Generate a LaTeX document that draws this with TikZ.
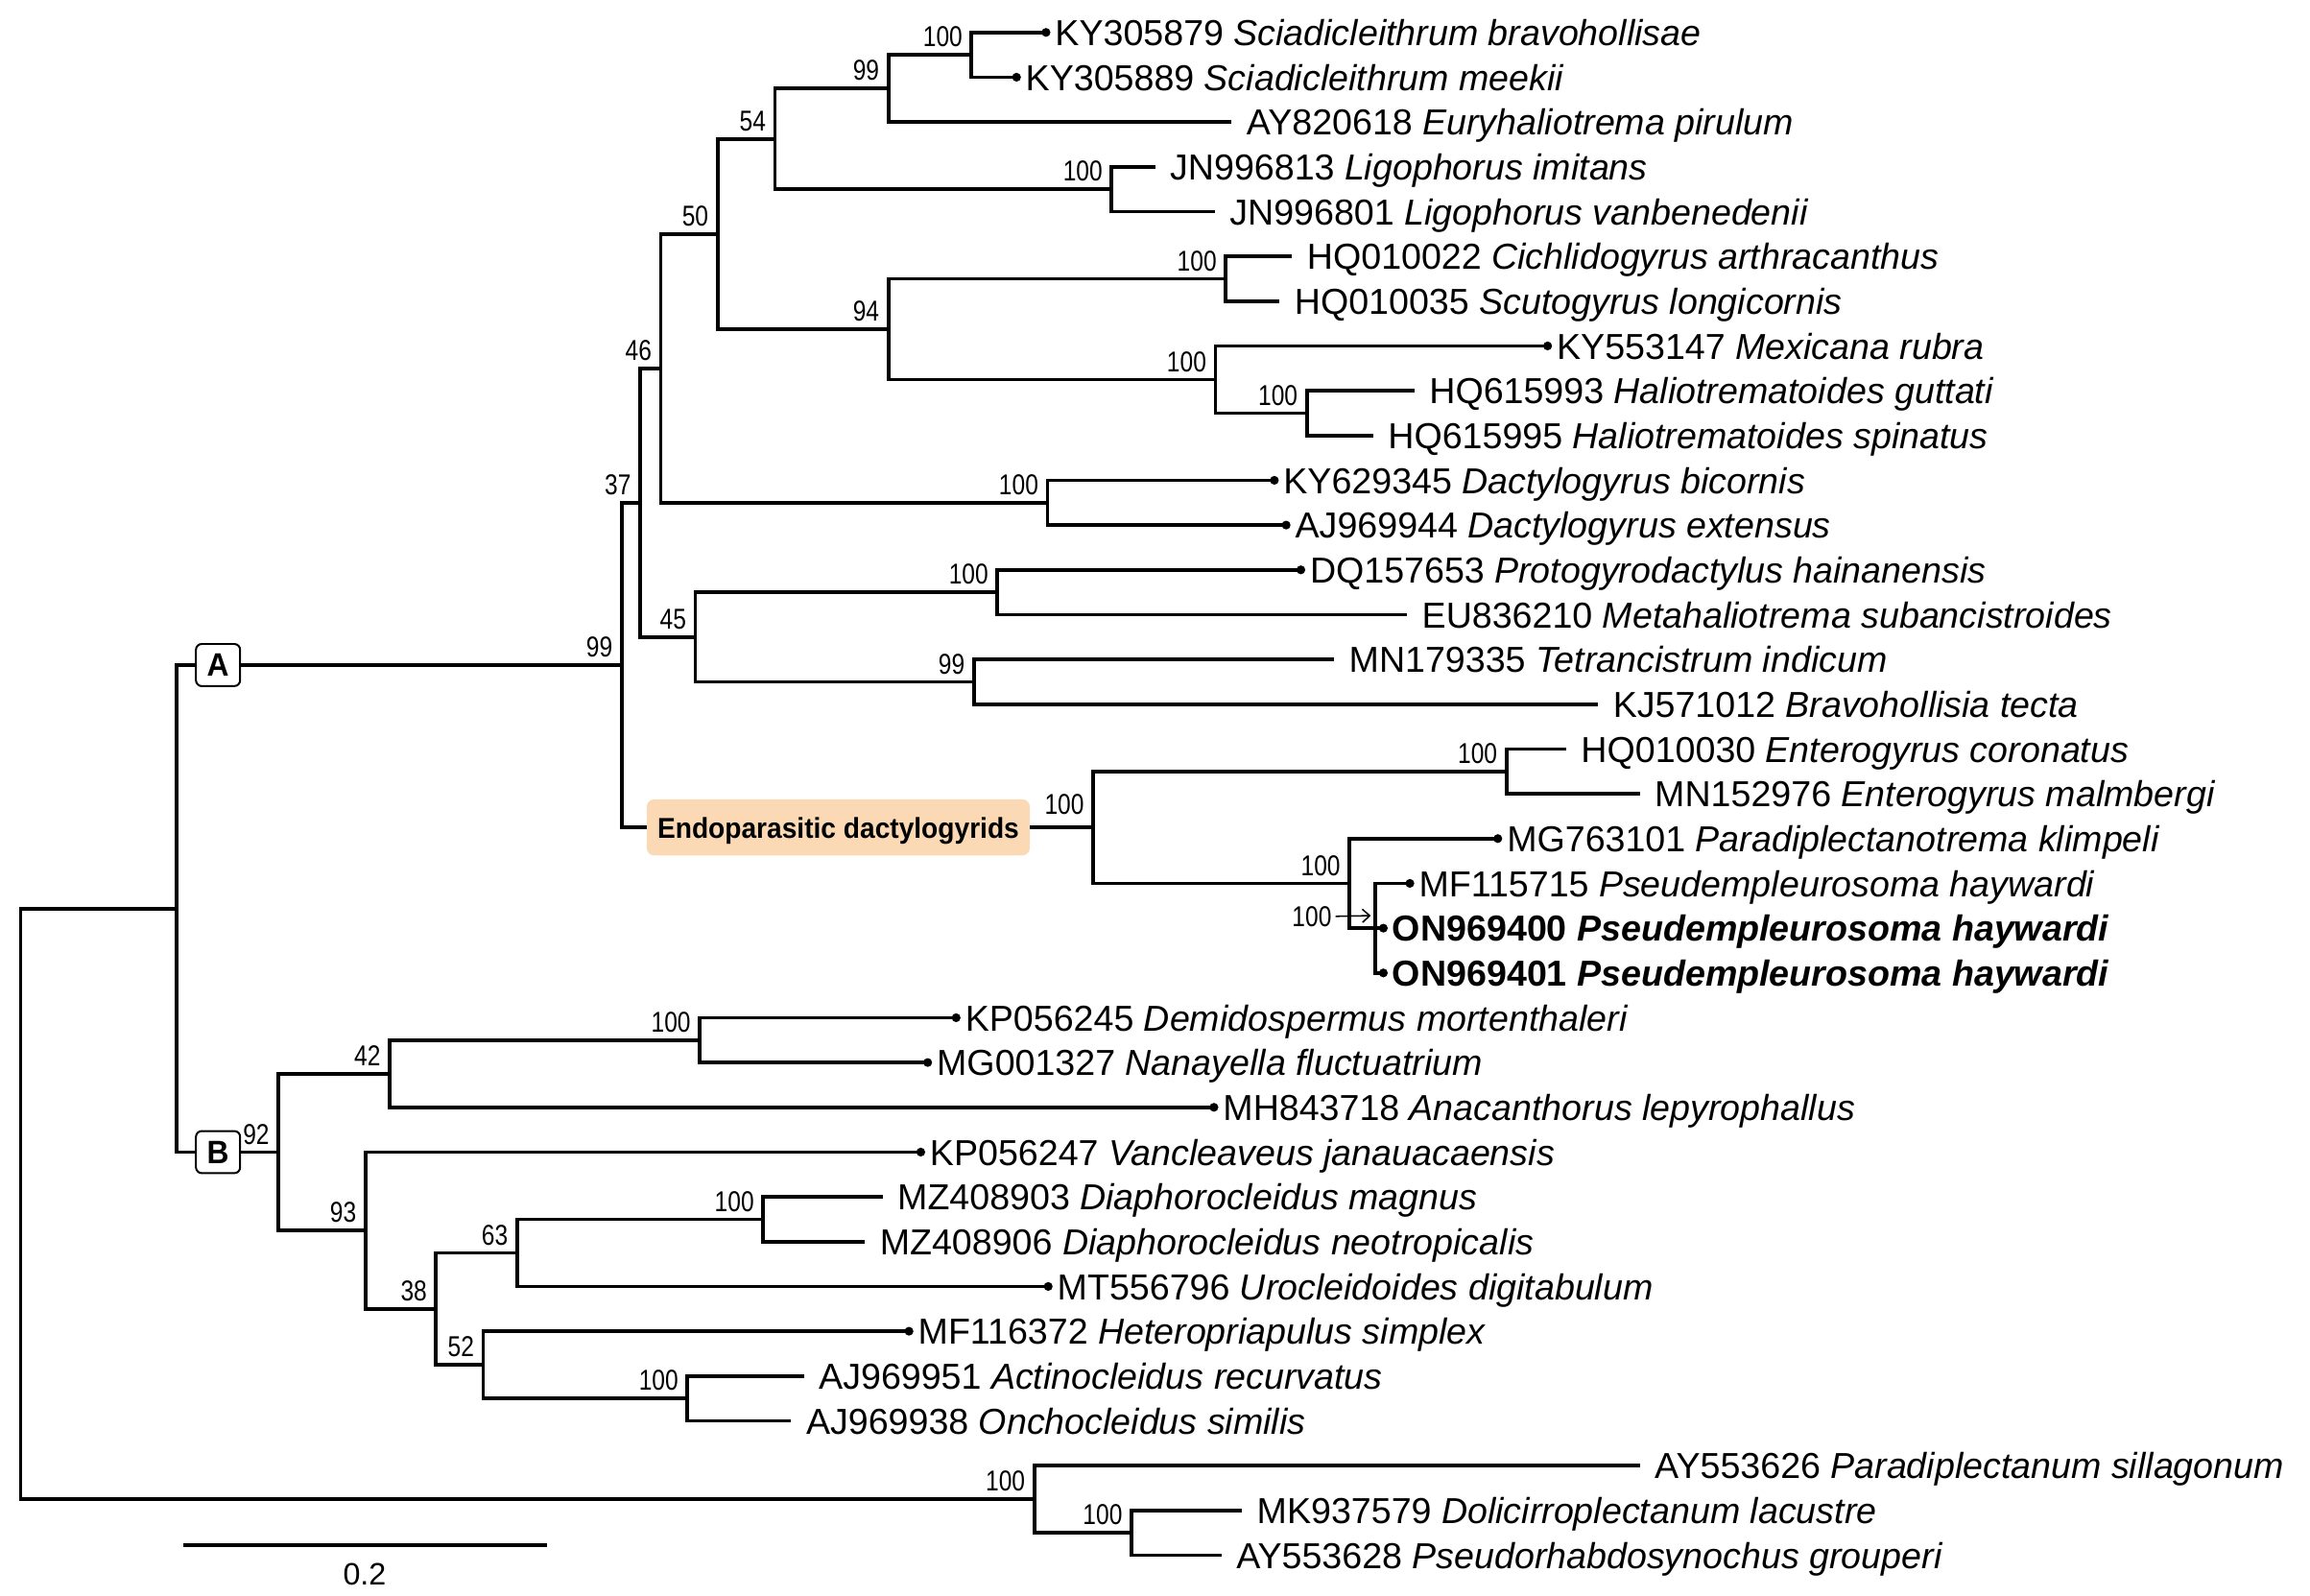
\documentclass[tikz,border=0pt]{standalone}
\usepackage{fontspec}
\setmainfont{Liberation Sans}
\newfontfamily\narrowfont[FakeStretch=0.82]{Liberation Sans}
\newfontfamily\boxfont[FakeStretch=0.94]{Liberation Sans}
\usetikzlibrary{arrows.meta}
\definecolor{endofill}{RGB}{250,217,180}
\tikzset{
  branch/.style={line width=2.5pt},
  taxon/.style={anchor=base west, inner sep=0pt, font=\fontsize{24.5}{28}\selectfont},
  support/.style={anchor=base east, inner sep=0pt, font=\narrowfont\fontsize{19.5}{22}\selectfont},
  cladebox/.style={draw, line width=1.3pt, rounded corners=4pt, fill=white, minimum width=30pt, minimum height=28.6pt, inner sep=0pt, font=\boxfont\bfseries\fontsize{22}{24}\selectfont},
  endobox/.style={fill=endofill, rounded corners=5pt, minimum width=260pt, minimum height=38pt, inner sep=0pt, text height=14.5pt, text depth=0pt, font=\boxfont\bfseries\fontsize{19.5}{22}\selectfont},
  scalelabel/.style={anchor=base, inner sep=0pt, font=\fontsize{21}{24}\selectfont},
}
\newcommand{\tipd}[4]{\coordinate (#1) at (#2); \fill (#1) circle (3pt); \node[taxon] (t#1) at ([xshift=6pt,yshift=-9pt]#1) {#3 \textit{#4}};}
\newcommand{\tipp}[4]{\coordinate (#1) at (#2); \node[taxon] (t#1) at ([xshift=10pt,yshift=-9pt]#1) {#3 \textit{#4}};}
\newcommand{\bsv}[3]{\node[support] (#1) at ([xshift=-6pt,yshift=5.5pt]#2) {#3};}
\begin{document}
\begin{tikzpicture}[x=1pt,y=-1pt]
\useasboundingbox (0,0) rectangle (1568,1082.7);

% internal nodes
\coordinate (root) at (14,817.2);
\coordinate (n30) at (120,616.7);
\coordinate (n20) at (422,451.4);
\coordinate (n15) at (434.5,341.2);
\coordinate (n11) at (448.5,250.0);
\coordinate (n9) at (487,158.8);
\coordinate (n4) at (526,94.2);
\coordinate (n2) at (603,60.0);
\coordinate (n1) at (659.5,37.2);
\coordinate (n3) at (754.5,128.4);
\coordinate (n8) at (603,223.4);
\coordinate (n5) at (832,189.2);
\coordinate (n7) at (825,257.6);
\coordinate (n6) at (887,280.4);
\coordinate (n10) at (711,341.2);
\coordinate (n14) at (472,432.4);
\coordinate (n12) at (677,402.0);
\coordinate (n13) at (661,462.8);
\coordinate (n19) at (742,561.6);
\coordinate (n16) at (1022.5,523.6);
\coordinate (n18) at (916,599.6);
\coordinate (n17) at (933.6,630.0);
\coordinate (n29) at (189,782.0);
\coordinate (n22) at (264.5,728.8);
\coordinate (n21) at (475,706.0);
\coordinate (n28) at (248,835.2);
\coordinate (n27) at (296,888.4);
\coordinate (n24) at (351,850.4);
\coordinate (n23) at (518,827.6);
\coordinate (n26) at (328,926.4);
\coordinate (n25) at (466.6,949.2);
\coordinate (n32) at (702,1017.6);
\coordinate (n31) at (768,1040.4);

% leaves
\tipd{l1}{710,22.0}{KY305879}{Sciadicleithrum bravohollisae}
\tipd{l2}{690,52.4}{KY305889}{Sciadicleithrum meekii}
\tipp{l3}{836,82.8}{AY820618}{Euryhaliotrema pirulum}
\tipp{l4}{784,113.2}{JN996813}{Ligophorus imitans}
\tipp{l5}{824.5,143.6}{JN996801}{Ligophorus vanbenedenii}
\tipp{l6}{877,174.0}{HQ010022}{Cichlidogyrus arthracanthus}
\tipp{l7}{868.5,204.4}{HQ010035}{Scutogyrus longicornis}
\tipd{l8}{1050.5,234.8}{KY553147}{Mexicana rubra}
\tipp{l9}{960,265.2}{HQ615993}{Haliotrematoides guttati}
\tipp{l10}{932,295.6}{HQ615995}{Haliotrematoides spinatus}
\tipd{l11}{865,326.0}{KY629345}{Dactylogyrus bicornis}
\tipd{l12}{873,356.4}{AJ969944}{Dactylogyrus extensus}
\tipd{l13}{883,386.8}{DQ157653}{Protogyrodactylus hainanensis}
\tipp{l14}{955,417.2}{EU836210}{Metahaliotrema subancistroides}
\tipp{l15}{905.5,447.6}{MN179335}{Tetrancistrum indicum}
\tipp{l16}{1084.7,478.0}{KJ571012}{Bravohollisia tecta}
\tipp{l17}{1063,508.4}{HQ010030}{Enterogyrus coronatus}
\tipp{l18}{1113,538.8}{MN152976}{Enterogyrus malmbergi}
\tipd{l19}{1016.7,569.2}{MG763101}{Paradiplectanotrema klimpeli}
\tipd{l20}{957,599.6}{MF115715}{Pseudempleurosoma haywardi}
\tipd{l21}{939,630.0}{\bfseries ON969400}{\bfseries Pseudempleurosoma haywardi}
\tipd{l22}{939,660.4}{\bfseries ON969401}{\bfseries Pseudempleurosoma haywardi}
\tipd{l23}{649,690.8}{KP056245}{Demidospermus mortenthaleri}
\tipd{l24}{629.7,721.2}{MG001327}{Nanayella fluctuatrium}
\tipd{l25}{824,751.6}{MH843718}{Anacanthorus lepyrophallus}
\tipd{l26}{625,782.0}{KP056247}{Vancleaveus janauacaensis}
\tipp{l27}{599,812.4}{MZ408903}{Diaphorocleidus magnus}
\tipp{l28}{587,842.8}{MZ408906}{Diaphorocleidus neotropicalis}
\tipd{l29}{711.5,873.2}{MT556796}{Urocleidoides digitabulum}
\tipd{l30}{617,903.6}{MF116372}{Heteropriapulus simplex}
\tipp{l31}{545.6,934.0}{AJ969951}{Actinocleidus recurvatus}
\tipp{l32}{537,964.4}{AJ969938}{Onchocleidus similis}
\tipp{l33}{1113,994.8}{AY553626}{Paradiplectanum sillagonum}
\tipp{l34}{843,1025.2}{MK937579}{Dolicirroplectanum lacustre}
\tipp{l35}{829,1055.6}{AY553628}{Pseudorhabdosynochus grouperi}

% clade boxes
\node[cladebox] (A) at (148,451.4) {A};
\node[cladebox] (B) at (148,782.0) {B};
\node[endobox] (endo) at (569,561.6) {Endoparasitic dactylogyrids};

% branches
\draw[branch] (root) |- (n30) (root) |- (n32);
\draw[branch] (n30) |- (A.west) (A.east) -- (n20);
\draw[branch] (n30) |- (B.west) (B.east) -- (n29);
\draw[branch] (n20) |- (n15) (n20) |- (endo.west) (endo.east) -- (n19);
\draw[branch] (n15) |- (n11) (n15) |- (n14);
\draw[branch] (n11) |- (n9) (n11) |- (n10);
\draw[branch] (n9) |- (n4) (n9) |- (n8);
\draw[branch] (n4) |- (n2) (n4) |- (n3);
\draw[branch] (n2) |- (n1) (n2) |- (l3);
\draw[branch] (n1) |- (l1) (n1) |- (l2);
\draw[branch] (n3) |- (l4) (n3) |- (l5);
\draw[branch] (n8) |- (n5) (n8) |- (n7);
\draw[branch] (n5) |- (l6) (n5) |- (l7);
\draw[branch] (n7) |- (l8) (n7) |- (n6);
\draw[branch] (n6) |- (l9) (n6) |- (l10);
\draw[branch] (n10) |- (l11) (n10) |- (l12);
\draw[branch] (n14) |- (n12) (n14) |- (n13);
\draw[branch] (n12) |- (l13) (n12) |- (l14);
\draw[branch] (n13) |- (l15) (n13) |- (l16);
\draw[branch] (n19) |- (n16) (n19) |- (n18);
\draw[branch] (n16) |- (l17) (n16) |- (l18);
\draw[branch] (n18) |- (l19) (n18) |- (n17);
\draw[branch] (n17) |- (l20) (n17) |- (l21) (n17) |- (l22);
\draw[branch] (n29) |- (n22) (n29) |- (n28);
\draw[branch] (n22) |- (n21) (n22) |- (l25);
\draw[branch] (n21) |- (l23) (n21) |- (l24);
\draw[branch] (n28) |- (l26) (n28) |- (n27);
\draw[branch] (n27) |- (n24) (n27) |- (n26);
\draw[branch] (n24) |- (n23) (n24) |- (l29);
\draw[branch] (n23) |- (l27) (n23) |- (l28);
\draw[branch] (n26) |- (l30) (n26) |- (n25);
\draw[branch] (n25) |- (l31) (n25) |- (l32);
\draw[branch] (n32) |- (l33) (n32) |- (n31);
\draw[branch] (n31) |- (l34) (n31) |- (l35);

% support values
\bsv{s1}{n1}{100}
\bsv{s2}{n2}{99}
\bsv{s3}{n3}{100}
\bsv{s4}{n4}{54}
\bsv{s5}{n5}{100}
\bsv{s6}{n6}{100}
\bsv{s7}{n7}{100}
\bsv{s8}{n8}{94}
\bsv{s9}{n9}{50}
\bsv{s10}{n10}{100}
\bsv{s11}{n11}{46}
\bsv{s12}{n12}{100}
\bsv{s13}{n13}{99}
\bsv{s14}{n14}{45}
\bsv{s15}{n15}{37}
\bsv{s16}{n16}{100}
\bsv{s18}{n18}{100}
\node[support] (s19) at ([xshift=-6pt,yshift=9pt]n19) {100};
\bsv{s20}{n20}{99}
\bsv{s21}{n21}{100}
\bsv{s22}{n22}{42}
\bsv{s23}{n23}{100}
\bsv{s24}{n24}{63}
\bsv{s25}{n25}{100}
\bsv{s26}{n26}{52}
\bsv{s27}{n27}{38}
\bsv{s28}{n28}{93}
\bsv{s29}{n29}{92}
\bsv{s31}{n31}{100}
\bsv{s32}{n32}{100}

% support value of the Pseudempleurosoma node, with pointer arrow
\node[support] (s17) at (904,628.7) {100};
\coordinate (arrtip) at (930.5,621.5);
\draw[line width=1pt, -{Straight Barb[length=5pt,width=9pt]}] ([xshift=2.5pt]s17.east) -- (arrtip);

% scale bar
\coordinate (sb1) at (124.7,1049);
\coordinate (sb2) at (371,1049);
\draw[branch] (sb1) -- (sb2);
\node[scalelabel] (sbl) at (247.5,1075.5) {0.2};
\end{tikzpicture}
\end{document}
